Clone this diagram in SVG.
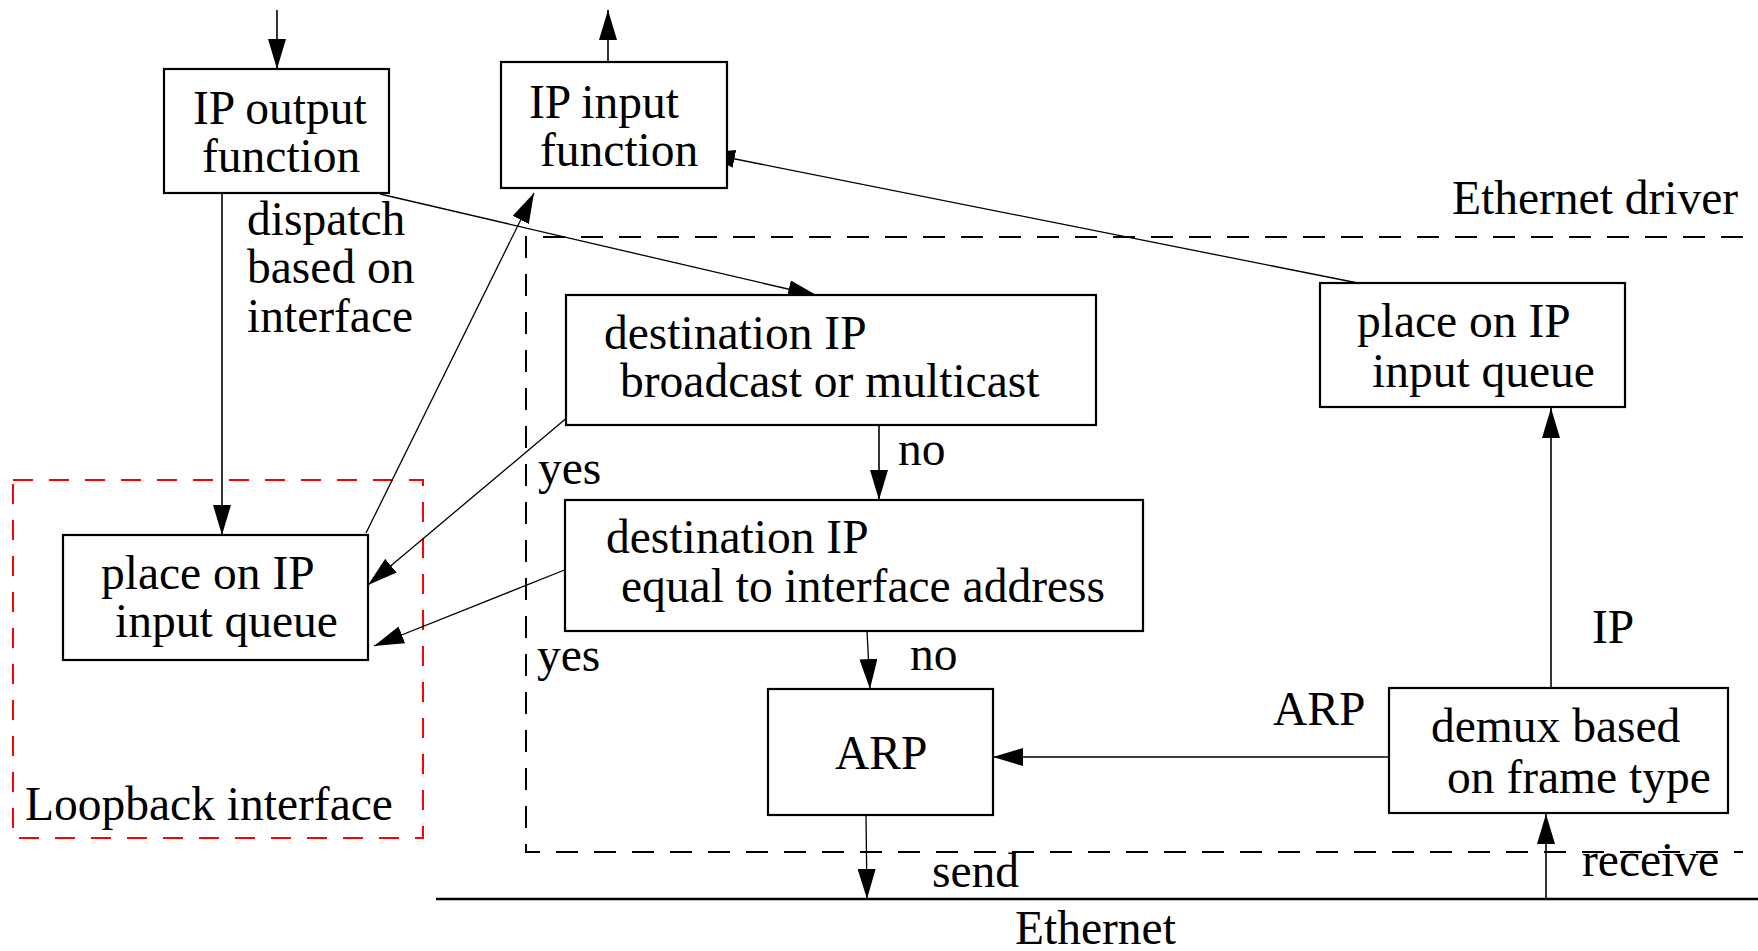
<svg xmlns="http://www.w3.org/2000/svg" width="1758" height="951" viewBox="0 0 1758 951">
<style>
text { font-family: "Liberation Serif", "Times New Roman", serif; font-size: 47.5px; fill: #000; }
.box { fill: #fff; stroke: #000; stroke-width: 2.2; }
.ln { fill: none; stroke: #000; stroke-width: 1.6; }
.thin { fill: none; stroke: #000; stroke-width: 1.3; }
.dash { fill: none; stroke: #000; stroke-width: 2; stroke-dasharray: 22 16; }
.red { fill: none; stroke: #ff0000; stroke-width: 2; stroke-dasharray: 20 16; }
</style>
<defs>
<marker id="ah" markerUnits="userSpaceOnUse" markerWidth="30" markerHeight="18" refX="30" refY="9" orient="auto">
<path d="M0,0 L30,9 L0,18 z" fill="#000"/>
</marker>
</defs>
<rect width="1758" height="951" fill="#fff"/>

<g id="containers">
<path class="dash" d="M1743,237 H526 V852 H1743"/>
<rect class="red" x="13" y="480" width="410" height="358"/>
<line x1="436" y1="899" x2="1758" y2="899" stroke="#000" stroke-width="2.5"/>
<text x="1452" y="214">Ethernet driver</text>
<text x="25" y="820">Loopback interface</text>
<text x="1015" y="944">Ethernet</text>
</g>

<g id="connectors">
<line class="ln" x1="277" y1="10" x2="277" y2="69" marker-end="url(#ah)"/>
<line class="ln" x1="608" y1="62" x2="608" y2="10" marker-end="url(#ah)"/>
<line class="thin" x1="380" y1="194" x2="818" y2="296" marker-end="url(#ah)"/>
<line class="ln" x1="222" y1="193" x2="222" y2="535" marker-end="url(#ah)"/>
<line class="thin" x1="366" y1="533" x2="534" y2="193" marker-end="url(#ah)"/>
<line class="thin" x1="569" y1="416" x2="368" y2="585" marker-end="url(#ah)"/>
<line class="ln" x1="879" y1="425" x2="879" y2="500" marker-end="url(#ah)"/>
<line class="thin" x1="567" y1="569" x2="374" y2="646" marker-end="url(#ah)"/>
<line class="thin" x1="867" y1="631" x2="870" y2="689" marker-end="url(#ah)"/>
<line class="thin" x1="866" y1="815" x2="867" y2="899" marker-end="url(#ah)"/>
<line class="ln" x1="1389" y1="757" x2="993" y2="757" marker-end="url(#ah)"/>
<line class="ln" x1="1551" y1="688" x2="1551" y2="408" marker-end="url(#ah)"/>
<line class="ln" x1="1546" y1="899" x2="1546" y2="814" marker-end="url(#ah)"/>
<line class="thin" x1="1378" y1="287" x2="705" y2="153" marker-end="url(#ah)"/>
<text x="247" y="235">dispatch</text>
<text x="247" y="283">based on</text>
<text x="247" y="332">interface</text>
<text x="898" y="465">no</text>
<text x="538" y="484">yes</text>
<text x="537" y="671">yes</text>
<text x="910" y="670">no</text>
<text x="1273" y="725">ARP</text>
<text x="1592" y="643">IP</text>
<text x="932" y="887">send</text>
<text x="1582" y="876">receive</text>
</g>

<g id="ip-output">
<rect class="box" x="164" y="69" width="225" height="124"/>
<text x="193" y="124">IP output</text>
<text x="202" y="172">function</text>
</g>

<g id="ip-input">
<rect class="box" x="501" y="62" width="226" height="126"/>
<text x="529" y="118">IP input</text>
<text x="540" y="166">function</text>
</g>

<g id="dest-broadcast">
<rect class="box" x="566" y="295" width="530" height="130"/>
<text x="604" y="349">destination IP</text>
<text x="620" y="397">broadcast or multicast</text>
</g>

<g id="dest-equal">
<rect class="box" x="565" y="500" width="578" height="131"/>
<text x="606" y="553">destination IP</text>
<text x="621" y="602">equal to interface address</text>
</g>

<g id="loop-queue">
<rect class="box" x="63" y="535" width="305" height="125"/>
<text x="101" y="589">place on IP</text>
<text x="115" y="637">input queue</text>
</g>

<g id="arp">
<rect class="box" x="768" y="689" width="225" height="126"/>
<text x="835" y="769">ARP</text>
</g>

<g id="eth-queue">
<rect class="box" x="1320" y="283" width="305" height="124"/>
<text x="1357" y="337">place on IP</text>
<text x="1372" y="387">input queue</text>
</g>

<g id="demux">
<rect class="box" x="1389" y="688" width="339" height="125"/>
<text x="1431" y="742">demux based</text>
<text x="1447" y="793">on frame type</text>
</g>
</svg>
